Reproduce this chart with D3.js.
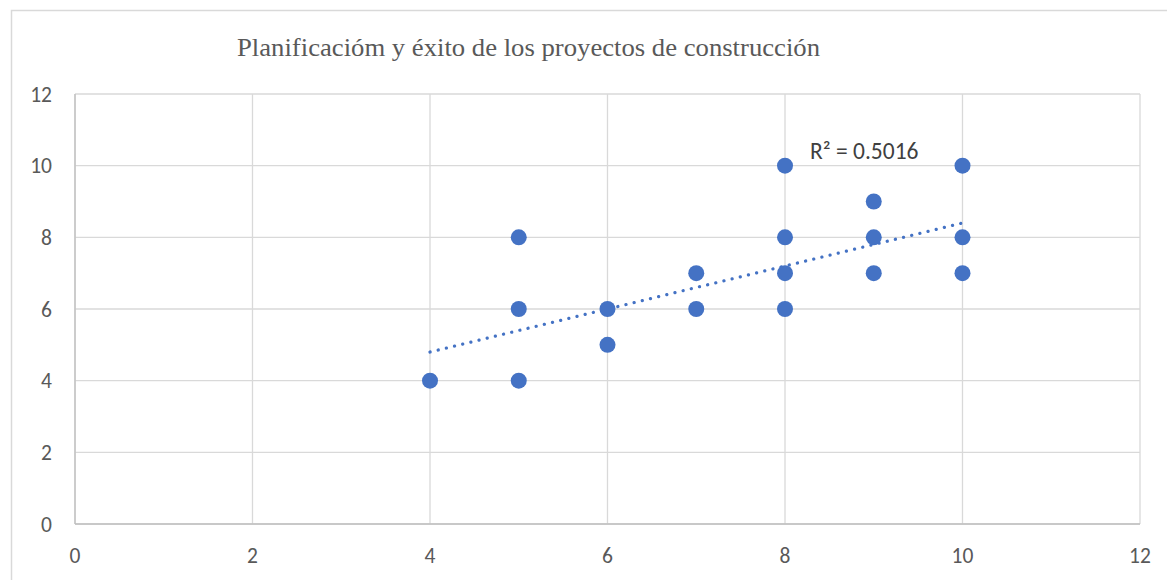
<!DOCTYPE html>
<html>
<head>
<meta charset="utf-8">
<script src="https://cdn.jsdelivr.net/npm/d3@7"></script>
<style>
  body { margin: 0; background: #fff; }
  svg text { font-family: Carlito, Lato, "Open Sans", "Liberation Sans", sans-serif; }
</style>
</head>
<body>
<div id="chart"></div>
<script>
const chartTitle = "Planificacióm y éxito de los proyectos de construcción";
const xValues = [4, 5, 5, 5, 6, 6, 7, 7, 8, 8, 8, 8, 9, 9, 9, 10, 10, 10];
const yValues = [4, 4, 6, 8, 5, 6, 6, 7, 6, 7, 8, 10, 7, 8, 9, 7, 8, 10];
const trendX = [4, 10];
const trendY = [4.8, 8.4];
const r2Label = "R² = 0.5016";
const xTicks = [0, 2, 4, 6, 8, 10, 12];
const yTicks = [0, 2, 4, 6, 8, 10, 12];

const width = 1167, height = 580;
const margin = { top: 94, right: 27, bottom: 56, left: 75 };
const blue = "#4472C4";

const svg = d3.select("#chart").append("svg")
  .attr("width", width).attr("height", height);

// chart frame
svg.append("rect")
  .attr("x", 11.5).attr("y", 10.5)
  .attr("width", width + 10).attr("height", height + 10)
  .attr("fill", "none").attr("stroke", "#d9d9d9").attr("stroke-width", 1.5);

const x = d3.scaleLinear().domain([0, 12]).range([margin.left, width - margin.right]);
const y = d3.scaleLinear().domain([0, 12]).range([height - margin.bottom, margin.top]);

// gridlines
svg.append("g").selectAll("line.v").data(xTicks).join("line")
  .attr("x1", d => x(d)).attr("x2", d => x(d))
  .attr("y1", y(0)).attr("y2", y(12))
  .attr("stroke", "#d9d9d9").attr("stroke-width", 1.3);
svg.append("g").selectAll("line.h").data(yTicks).join("line")
  .attr("x1", x(0)).attr("x2", x(12))
  .attr("y1", d => y(d)).attr("y2", d => y(d))
  .attr("stroke", "#d9d9d9").attr("stroke-width", 1.3);

// axes lines
svg.append("line")
  .attr("x1", x(0)).attr("x2", x(12)).attr("y1", y(0)).attr("y2", y(0))
  .attr("stroke", "#bfbfbf").attr("stroke-width", 1.3);
svg.append("line")
  .attr("x1", x(0)).attr("x2", x(0)).attr("y1", y(0)).attr("y2", y(12))
  .attr("stroke", "#bfbfbf").attr("stroke-width", 1.3);

// tick labels
svg.append("g").selectAll("text").data(xTicks).join("text")
  .attr("x", d => x(d)).attr("y", y(0) + 39)
  .attr("text-anchor", "middle")
  .attr("font-size", 21.5).attr("fill", "#595959")
  .text(d => d);
svg.append("g").selectAll("text").data(yTicks).join("text")
  .attr("x", 52).attr("y", d => y(d))
  .attr("dy", "0.35em")
  .attr("text-anchor", "end")
  .attr("font-size", 21.5).attr("fill", "#595959")
  .text(d => d);

// title
svg.append("text")
  .attr("x", 237).attr("y", 56)
  .style("font-family", "'Liberation Serif', 'Times New Roman', serif")
  .attr("font-size", 25).attr("fill", "#595959")
  .attr("textLength", 583).attr("lengthAdjust", "spacingAndGlyphs")
  .text(chartTitle);

// trendline
svg.append("line")
  .attr("x1", x(trendX[0])).attr("y1", y(trendY[0]))
  .attr("x2", x(trendX[1])).attr("y2", y(trendY[1]))
  .attr("stroke", blue).attr("stroke-width", 3.2)
  .attr("stroke-linecap", "round")
  .attr("stroke-dasharray", "0.1 8.3");

// points
svg.append("g").selectAll("circle").data(xValues.map((d, i) => [d, yValues[i]])).join("circle")
  .attr("cx", d => x(d[0])).attr("cy", d => y(d[1]))
  .attr("r", 8)
  .attr("fill", blue);

// R² label
svg.append("text")
  .attr("x", 810).attr("y", 159)
  .attr("font-size", 23.5).attr("fill", "#404040")
  .text(r2Label);
</script>
</body>
</html>
